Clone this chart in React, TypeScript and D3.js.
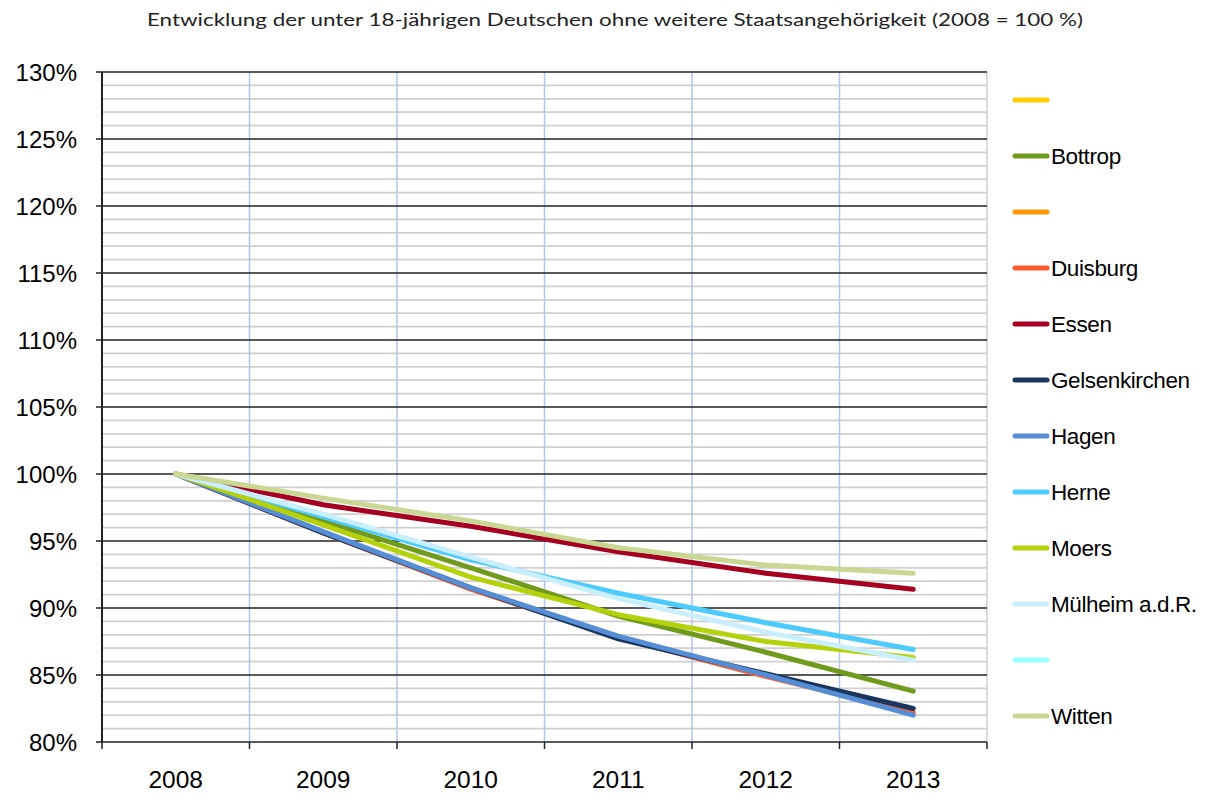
import React from "react";
import * as d3 from "d3";

const years = ["2008", "2009", "2010", "2011", "2012", "2013"];
const yTicks = [80, 85, 90, 95, 100, 105, 110, 115, 120, 125, 130];
const seriesNames = ["", "Bottrop", "", "Duisburg", "Essen", "Gelsenkirchen", "Hagen", "Herne", "Moers", "Mülheim a.d.R.", "", "Witten"];
const seriesColors = ["#FFCC00", "#6F9A1C", "#FF9900", "#FF5A2E", "#A50021", "#1B365D", "#558ED5", "#4DCBFF", "#B4D10B", "#C8EEFF", "#99FFFF", "#C8D792"];
const blank1: number[] = [];
const bottrop = [100, 96.5, 93.0, 89.4, 86.7, 83.8];
const blank2: number[] = [];
const duisburg = [100, 95.6, 91.4, 87.8, 84.9, 82.2];
const essen = [100, 97.7, 96.1, 94.2, 92.6, 91.4];
const gelsenkirchen = [100, 95.6, 91.5, 87.7, 85.1, 82.5];
const hagen = [100, 95.7, 91.5, 87.9, 85.0, 82.0];
const herne = [100, 96.8, 93.6, 91.1, 88.9, 86.9];
const moers = [100, 96.2, 92.3, 89.5, 87.5, 86.3];
const muelheim = [100, 97.0, 93.8, 90.7, 88.2, 86.1];
const blank3: number[] = [];
const witten = [100, 98.2, 96.5, 94.5, 93.2, 92.6];
const seriesValues = [blank1, bottrop, blank2, duisburg, essen, gelsenkirchen, hagen, herne, moers, muelheim, blank3, witten];

export default function App() {
  const W = 1210, H = 794;
  const left = 102, right = 987, top = 72, bottom = 742;
  const x = d3.scaleBand<string>().domain(years).range([left, right]);
  const y = d3.scaleLinear().domain([80, 130]).range([bottom, top]);
  const minor = d3.range(80, 131, 1).filter((v) => v % 5 !== 0);
  const line = d3
    .line<number>()
    .x((_, i) => (x(years[i]) as number) + x.bandwidth() / 2)
    .y((v) => y(v));
  const boundaries = years.map((yr) => x(yr) as number).concat([right]);
  const font = "'Liberation Sans', Arial, sans-serif";
  return (
    <svg width={W} height={H} style={{ position: "absolute", left: 0, top: 0 }}>
      <rect x={0} y={0} width={W} height={H} fill="#fff" />
      <text x={615} y={26} textAnchor="middle" fontFamily="Lato, 'Open Sans', sans-serif" fontSize={17} fill="#222" textLength={936} lengthAdjust="spacingAndGlyphs">
        Entwicklung der unter 18-jährigen Deutschen ohne weitere Staatsangehörigkeit (2008 = 100 %)
      </text>
      {minor.map((v) => (
        <line key={"m" + v} x1={left} x2={right} y1={y(v)} y2={y(v)} stroke="#CFCFCF" strokeWidth={1.8} />
      ))}
      {boundaries.slice(1, -1).map((bx, i) => (
        <line key={"v" + i} x1={bx} x2={bx} y1={top} y2={bottom} stroke="#AFC6EC" strokeWidth={1.5} />
      ))}
      <line x1={right} x2={right} y1={top} y2={bottom} stroke="#C8CFDC" strokeWidth={1.5} />
      {yTicks.map((v) => (
        <line key={"M" + v} x1={left - 6} x2={right} y1={y(v)} y2={y(v)} stroke="#222" strokeWidth={1.6} />
      ))}
      <line x1={left} x2={left} y1={top} y2={bottom} stroke="#222" strokeWidth={2} />
      {boundaries.map((bx, i) => (
        <line key={"t" + i} x1={bx} x2={bx} y1={bottom} y2={bottom + 7} stroke="#222" strokeWidth={1.5} />
      ))}
      {yTicks.map((v) => (
        <text key={"yl" + v} x={77} y={y(v) + 9} textAnchor="end" fontFamily={font} fontSize={24} fill="#000">
          {v}%
        </text>
      ))}
      {years.map((yr) => (
        <text key={"xl" + yr} x={(x(yr) as number) + x.bandwidth() / 2} y={788} textAnchor="middle" fontFamily={font} fontSize={24.5} fill="#000">
          {yr}
        </text>
      ))}
      {seriesValues.map((vals, i) =>
        vals.length ? (
          <path key={"s" + i} d={line(vals) as string} fill="none" stroke={seriesColors[i]} strokeWidth={5} strokeLinecap="round" strokeLinejoin="round" />
        ) : null
      )}
      {seriesNames.map((nm, i) => {
        const ly = 100 + i * 56.0;
        return (
          <g key={"lg" + i}>
            <line x1={1015} x2={1047} y1={ly} y2={ly} stroke={seriesColors[i]} strokeWidth={5} strokeLinecap="round" />
            <text x={1051} y={ly + 8} fontFamily={font} fontSize={22.5} letterSpacing={-0.4} fill="#000">
              {nm}
            </text>
          </g>
        );
      })}
    </svg>
  );
}
